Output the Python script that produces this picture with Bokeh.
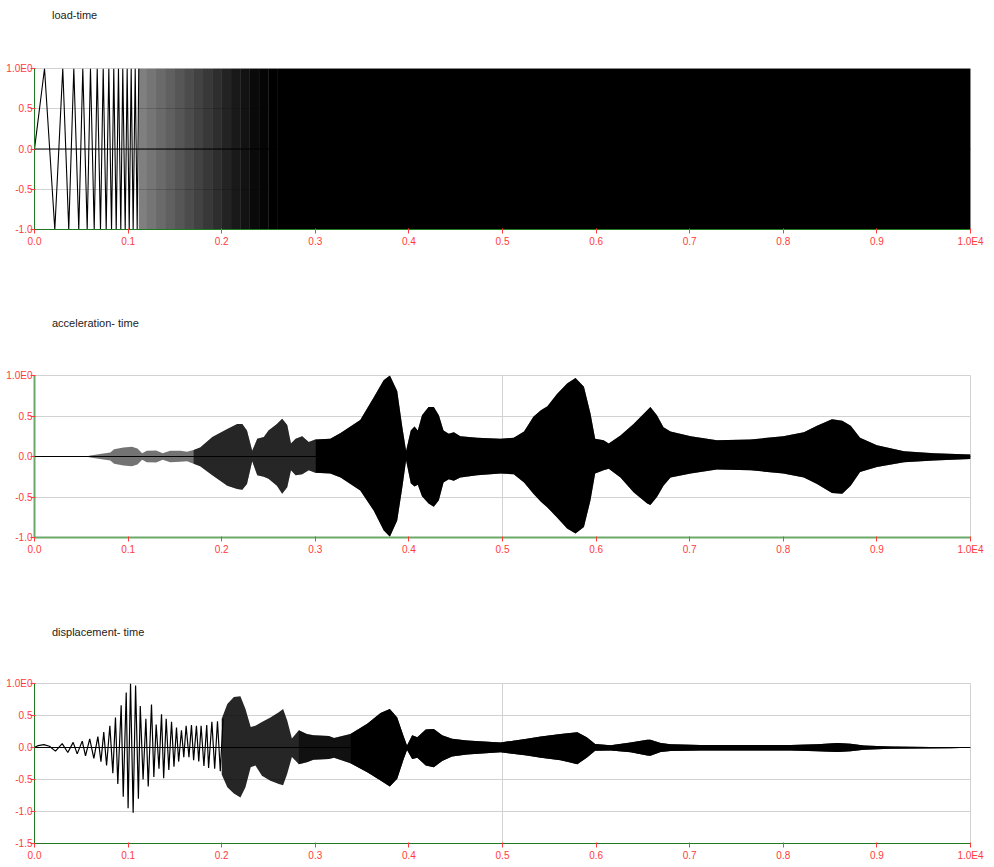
from bokeh.plotting import figure
from bokeh.layouts import column
from bokeh.models import Range1d, FixedTicker, Span, Div
from bokeh.embed import file_html
from bokeh.resources import INLINE

# ---------------- data (time axis in units, 0 .. 1.0E4) ----------------
X_TICKS = [0, 1000, 2000, 3000, 4000, 5000, 6000, 7000, 8000, 9000, 10000]
X_LABELS = ["0.0", "0.1", "0.2", "0.3", "0.4", "0.5", "0.6", "0.7", "0.8", "0.9", "1.0E4"]
Y_TICKS_A = [-1.0, -0.5, 0.0, 0.5, 1.0]
Y_LABELS_A = ["-1.0", "-0.5", "0.0", "0.5", "1.0E0"]
Y_TICKS_B = [-1.5, -1.0, -0.5, 0.0, 0.5, 1.0]
Y_LABELS_B = ["-1.5", "-1.0", "-0.5", "0.0", "0.5", "1.0E0"]
TITLES = ["load-time", "acceleration- time", "displacement- time"]

# load-time: individually readable extremes of the sweep
load_ext_t = [0, 107, 162, 217, 260, 302, 334, 366, 420, 473, 516, 563, 598, 638, 670,
              705, 734, 766, 794, 823, 847, 873, 897, 922, 943, 969, 990, 1012, 1033,
              1054, 1076, 1097, 1114]
load_ext_v = [0, 1, 0, -1, 0, 1, 0, -1, 1, -1, 1, -1, 1, -1, 1,
              -1, 1, -1, 1, -1, 1, -1, 1, -1, 1, -1, 1, -1, 1,
              -1, 1, -1, 1]
# load-time: envelope of the unresolved (dense) part
load_env_t = [1114, 1200, 1300, 1400, 1500, 1600, 1700, 1800, 1900, 2000, 2100, 2200,
              2300, 2400, 2500, 2600, 10000]
load_env_hi = [1, 1, 1, 1, 1, 1, 1, 1, 1, 1, 1, 1, 1, 1, 1, 1, 1]
load_env_lo = [-1, -1, -1, -1, -1, -1, -1, -1, -1, -1, -1, -1, -1, -1, -1, -1, -1]

# acceleration-time: envelope
acc_t = [580, 700, 810, 850, 950, 1040, 1100, 1150, 1200, 1300, 1370, 1450, 1560, 1630,
         1700, 1770, 1900, 2060, 2166, 2220, 2270, 2326, 2380, 2450, 2500, 2590, 2646,
         2700, 2740, 2790, 2860, 2930, 3000, 3160, 3270, 3480, 3625, 3730, 3797, 3875,
         3930, 3970, 4020, 4060, 4095, 4140, 4210, 4266, 4320, 4370, 4426, 4480, 4550,
         4730, 4980, 5120, 5230, 5330, 5410, 5480, 5580, 5690, 5780, 5870, 5940, 5990,
         6080, 6135, 6260, 6400, 6546, 6580, 6650, 6720, 6795, 7010, 7290, 7650, 8000,
         8220, 8360, 8520, 8630, 8720, 8820, 9000, 9290, 9610, 10000]
acc_hi = [0.01, 0.03, 0.05, 0.09, 0.11, 0.12, 0.10, 0.04, 0.07, 0.075, 0.04, 0.07, 0.07, 0.06,
          0.08, 0.11, 0.24, 0.34, 0.40, 0.40, 0.32, 0.07, 0.22, 0.24, 0.32, 0.40, 0.465,
          0.39, 0.16, 0.22, 0.25, 0.18, 0.21, 0.22, 0.29, 0.45, 0.73, 0.94, 1.00, 0.81,
          0.36, 0.07, 0.32, 0.37, 0.32, 0.51, 0.61, 0.61, 0.51, 0.32, 0.28, 0.30, 0.25,
          0.23, 0.22, 0.23, 0.31, 0.49, 0.57, 0.62, 0.77, 0.90, 0.97, 0.86, 0.53, 0.22,
          0.20, 0.16, 0.26, 0.40, 0.57, 0.61, 0.51, 0.36, 0.31, 0.25, 0.20, 0.21, 0.25,
          0.30, 0.38, 0.46, 0.44, 0.38, 0.23, 0.14, 0.065, 0.04, 0.025]
acc_lo = [-0.01, -0.03, -0.05, -0.09, -0.11, -0.12, -0.10, -0.04, -0.07, -0.075, -0.04, -0.07, -0.065, -0.06,
          -0.09, -0.12, -0.23, -0.36, -0.40, -0.41, -0.34, -0.06, -0.23, -0.25, -0.275, -0.36, -0.46,
          -0.38, -0.17, -0.23, -0.22, -0.17, -0.20, -0.21, -0.26, -0.42, -0.67, -0.91, -0.99, -0.79,
          -0.38, -0.05, -0.33, -0.37, -0.35, -0.49, -0.58, -0.62, -0.54, -0.32, -0.28, -0.30, -0.26,
          -0.23, -0.21, -0.22, -0.32, -0.46, -0.56, -0.63, -0.75, -0.89, -0.95, -0.87, -0.54, -0.21,
          -0.17, -0.15, -0.26, -0.44, -0.58, -0.60, -0.50, -0.36, -0.26, -0.21, -0.16, -0.17, -0.21,
          -0.26, -0.34, -0.45, -0.46, -0.36, -0.19, -0.13, -0.07, -0.05, -0.03]

# displacement-time: individually readable extremes
disp_ext_t = [0, 40, 100, 160, 224, 296, 356, 413, 456, 510, 545, 590, 634, 677, 710, 740,
              770, 805, 837, 865, 890, 926, 948, 980, 1000, 1026, 1054, 1080, 1110, 1130,
              1160, 1190, 1215, 1250, 1275, 1300, 1330, 1357, 1380, 1407, 1435, 1464, 1490,
              1517, 1540, 1570, 1595, 1620, 1650, 1677, 1700, 1730, 1755, 1780, 1810, 1840,
              1860, 1895, 1925, 1955, 1985, 2015]
disp_ext_v = [0, 0.03, 0.045, 0.02, -0.057, 0.06, -0.078, 0.08, -0.10, 0.10, -0.13, 0.135,
              -0.17, 0.17, -0.22, 0.24, -0.28, 0.34, -0.40, 0.47, -0.57, 0.66, -0.77, 0.86,
              -0.95, 1.0, -1.02, 0.97, -0.80, 0.65, -0.50, 0.45, -0.61, 0.67, -0.46, 0.36,
              -0.33, 0.52, -0.48, 0.45, -0.35, 0.40, -0.30, 0.31, -0.22, 0.27, -0.15, 0.34,
              -0.15, 0.35, -0.20, 0.34, -0.22, 0.34, -0.29, 0.35, -0.32, 0.40, -0.33, 0.41,
              -0.37, 0.45]
# displacement-time: envelope of the dense part
disp_t = [2000, 2060, 2130, 2200, 2254, 2310, 2360, 2430, 2520, 2610, 2656, 2700, 2750, 2824,
          2910, 2980, 3145, 3200, 3376, 3555, 3697, 3796, 3875, 3940, 3980, 4035, 4090, 4180,
          4266, 4355, 4460, 4620, 4980, 5260, 5410, 5620, 5800, 5900, 5990, 6154, 6368, 6546,
          6580, 6690, 6795, 7115, 7650, 8080, 8360, 8580, 8720, 8860, 9145, 9786, 10000]
disp_hi = [0.45, 0.68, 0.79, 0.80, 0.60, 0.32, 0.34, 0.40, 0.47, 0.55, 0.60, 0.42, 0.14, 0.27,
           0.21, 0.19, 0.18, 0.15, 0.21, 0.37, 0.54, 0.60, 0.47, 0.19, 0.03, 0.19, 0.16, 0.28,
           0.29, 0.19, 0.135, 0.11, 0.08, 0.135, 0.17, 0.21, 0.24, 0.16, 0.055, 0.035, 0.08, 0.12,
           0.12, 0.07, 0.05, 0.04, 0.04, 0.04, 0.05, 0.07, 0.058, 0.03, 0.015, 0.005, 0.003]
disp_lo = [-0.42, -0.62, -0.72, -0.78, -0.62, -0.31, -0.28, -0.44, -0.52, -0.57, -0.59, -0.41, -0.15, -0.26,
           -0.23, -0.19, -0.18, -0.16, -0.245, -0.385, -0.515, -0.61, -0.49, -0.20, -0.04, -0.18, -0.16, -0.28,
           -0.31, -0.21, -0.14, -0.11, -0.075, -0.125, -0.16, -0.20, -0.26, -0.16, -0.05, -0.045, -0.075, -0.125,
           -0.13, -0.07, -0.055, -0.045, -0.045, -0.045, -0.06, -0.07, -0.06, -0.035, -0.02, -0.01, -0.005]

# ---------------- styling ----------------
FONT = "Liberation Sans"
RED = "#ff3b3b"
GRID = "#d2d2d2"
W = 994
TITLE_H = 22


def title_div(text):
    html = ('<div style="padding:8px 0 0 52px;font-family:\'Liberation Sans\',Arial,sans-serif;'
            'font-size:11px;line-height:14px;color:#222222;white-space:nowrap;">%s</div>' % text)
    return Div(text=html, width=W, height=TITLE_H, margin=(0, 0, 0, 0))


def make_fig(height, ymin, ymax, yticks, ylabels, top, bottom, axis_color, axis_width):
    p = figure(width=W, height=height, output_backend="svg", toolbar_location=None,
               x_range=Range1d(0, 10000), y_range=Range1d(ymin, ymax),
               min_border_left=34, min_border_right=24,
               min_border_top=top, min_border_bottom=bottom)
    p.outline_line_color = GRID
    p.background_fill_color = "white"
    p.border_fill_color = "white"

    for ax, ticks, labels in ((p.xaxis[0], X_TICKS, X_LABELS), (p.yaxis[0], yticks, ylabels)):
        ax.ticker = FixedTicker(ticks=ticks)
        ax.major_label_overrides = {t: l for t, l in zip(ticks, labels)}
        ax.axis_line_color = axis_color
        ax.axis_line_width = axis_width
        ax.major_tick_line_color = RED
        ax.major_tick_in = 1
        ax.major_tick_out = 4
        ax.minor_tick_line_color = None
        ax.major_label_text_color = RED
        ax.major_label_text_font = FONT
        ax.major_label_text_font_size = "10px"
    p.xaxis[0].major_label_standoff = 2
    p.yaxis[0].major_label_standoff = -2

    p.ygrid.ticker = FixedTicker(ticks=yticks)
    p.xgrid.ticker = FixedTicker(ticks=[5000])
    p.ygrid.grid_line_color = GRID
    p.xgrid.grid_line_color = GRID
    return p


def band(p, t, hi, lo, t0, t1, alpha):
    idx = [i for i, v in enumerate(t) if t0 <= v <= t1]
    p.varea(x=[t[i] for i in idx], y1=[lo[i] for i in idx], y2=[hi[i] for i in idx],
            fill_color="black", fill_alpha=alpha)


def shaded_band(p, t, hi, lo, bounds, alphas):
    # a base layer at the lightest shade (hides seams), then darker overlays
    base = min(alphas)
    band(p, t, hi, lo, bounds[0], bounds[-1], base)
    for k, al in enumerate(alphas):
        extra = (al - base) / (1.0 - base) if al < 1.0 else 1.0
        if extra > 0:
            band(p, t, hi, lo, bounds[k], bounds[k + 1], extra)


def zero_line(p):
    p.add_layout(Span(location=0, dimension="width", line_color="black", line_width=1.2))


# page rows: title 0-22 | plot 22-308 | title 308-330 | plot 330-617 | title 617-639 | plot 639-866
# ---- load-time ----
p1 = make_fig(286, -1, 1, Y_TICKS_A, Y_LABELS_A, 46, 79, "#1f7a1f", 1)
p1.line(load_ext_t, load_ext_v, line_color="black", line_width=1.1)
load_shade = [0.50, 0.54, 0.58, 0.62, 0.66, 0.70, 0.74, 0.78, 0.82, 0.86, 0.90, 0.93,
              0.96, 0.98, 1.0, 1.0]
shaded_band(p1, load_env_t, load_env_hi, load_env_lo, load_env_t, load_shade)
zero_line(p1)

# ---- acceleration-time ----
p2 = make_fig(287, -1, 1, Y_TICKS_A, Y_LABELS_A, 45, 80, "#6aa96a", 2)
shaded_band(p2, acc_t, acc_hi, acc_lo, [580, 1700, 3000, 10000], [0.55, 0.85, 1.0])
zero_line(p2)

# ---- displacement-time ----
p3 = make_fig(227, -1.5, 1, Y_TICKS_B, Y_LABELS_B, 44, 23, "#1f7a1f", 1)
p3.line(disp_ext_t, disp_ext_v, line_color="black", line_width=1.2)
shaded_band(p3, disp_t, disp_hi, disp_lo, [2000, 2824, 3376, 10000], [0.85, 0.93, 1.0])
zero_line(p3)

layout = column(title_div(TITLES[0]), p1, title_div(TITLES[1]), p2,
                title_div(TITLES[2]), p3, spacing=0)
open("out.html", "w").write(file_html(layout, INLINE))
